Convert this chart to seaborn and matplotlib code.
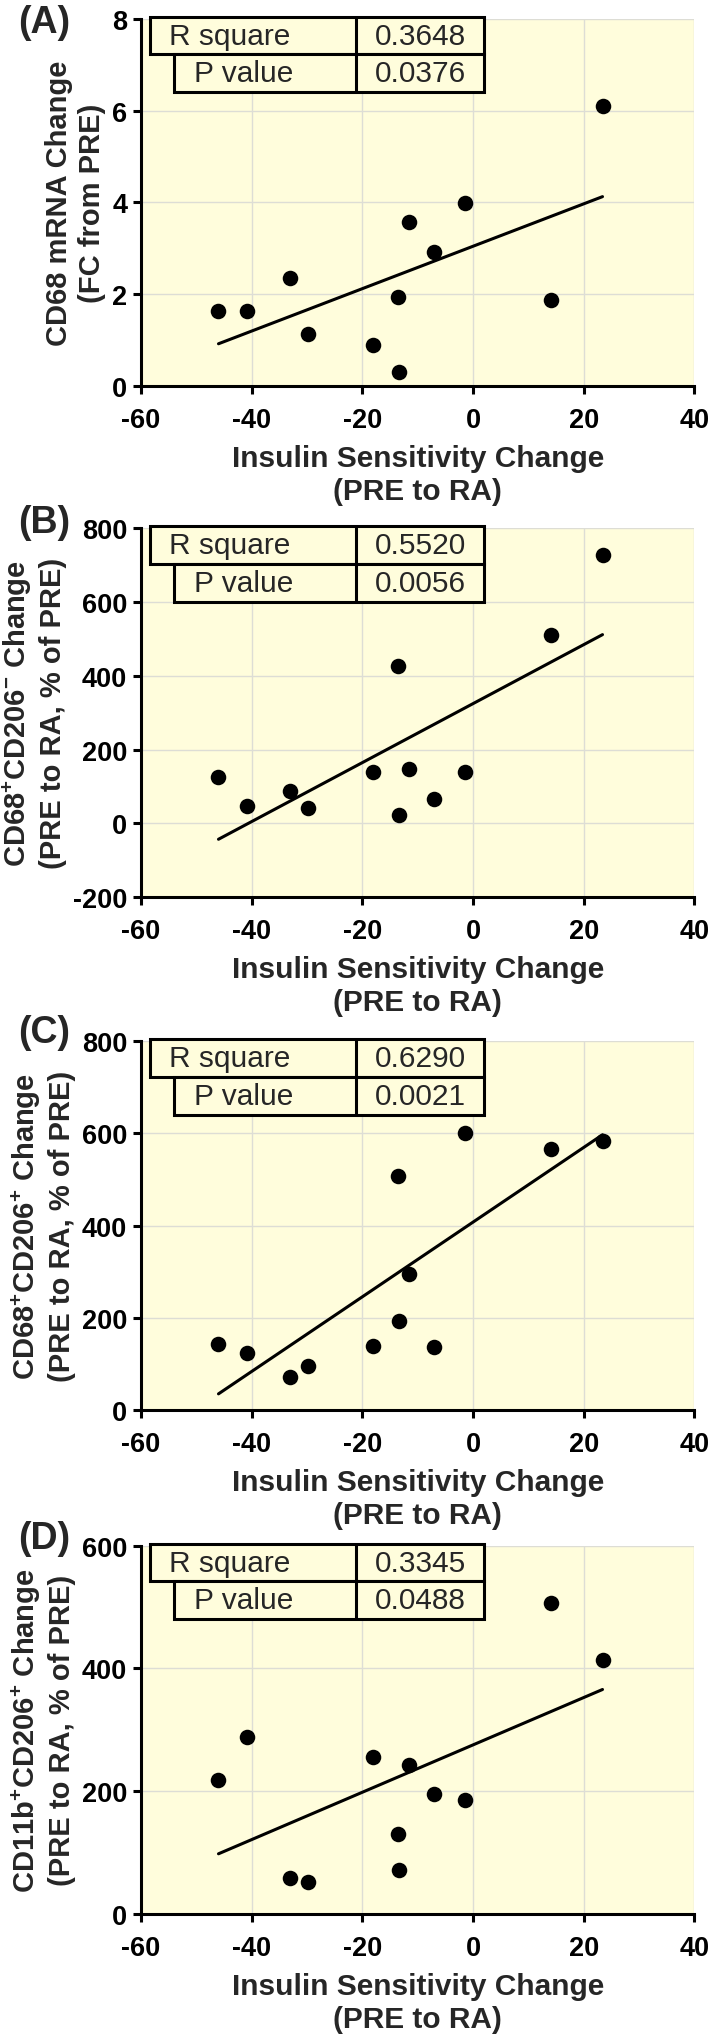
import numpy as np
import pandas as pd
import matplotlib
matplotlib.use('Agg')
import matplotlib.pyplot as plt
from matplotlib.patches import Rectangle
import seaborn as sns

###############################################################################
# Data (same 12 subjects in every panel)
insulin_change = [-46.0, -40.8, -33.1, -29.8, -18.0, -13.6, -13.4, -11.6, -7.0, -1.4, 14.1, 23.4]
cd68_mrna = [1.64, 1.64, 2.35, 1.12, 0.88, 1.93, 0.30, 3.56, 2.92, 3.99, 1.88, 6.10]
cd68_cd206_neg = [125, 46, 87, 42, 140, 426, 23, 147, 65, 140, 510, 728]
cd68_cd206_pos = [143, 123, 72, 95, 138, 508, 194, 296, 137, 601, 565, 583]
cd11b_cd206_pos = [219, 289, 59, 52, 256, 131, 72, 242, 196, 185, 507, 414]

panel_letters = ['(A)', '(B)', '(C)', '(D)']
y_labels = ['CD68 mRNA Change\n(FC from PRE)',
            'CD68$^{+}$CD206$^{-}$ Change\n(PRE to RA, % of PRE)',
            'CD68$^{+}$CD206$^{+}$ Change\n(PRE to RA, % of PRE)',
            'CD11b$^{+}$CD206$^{+}$ Change\n(PRE to RA, % of PRE)']
x_label = 'Insulin Sensitivity Change\n(PRE to RA)'
x_ticks = [-60, -40, -20, 0, 20, 40]
y_ticks = [[0, 2, 4, 6, 8],
           [-200, 0, 200, 400, 600, 800],
           [0, 200, 400, 600, 800],
           [0, 200, 400, 600]]
r_square = ['0.3648', '0.5520', '0.6290', '0.3345']
p_value = ['0.0376', '0.0056', '0.0021', '0.0488']
###############################################################################
sns.set_theme(style='white')
plt.rcParams['font.family'] = ['Liberation Sans', 'DejaVu Sans']
plt.rcParams['font.weight'] = 'bold'
plt.rcParams['axes.unicode_minus'] = False
plt.rcParams['mathtext.fontset'] = 'custom'
plt.rcParams['mathtext.default'] = 'bf'
plt.rcParams['mathtext.bf'] = 'Liberation Sans:bold'
plt.rcParams['mathtext.rm'] = 'Liberation Sans:bold'

bg = '#FFFDDC'
grid_col = '#DDDDD5'
lw = 2.2

fig = plt.figure(figsize=(7.14, 20.4), dpi=100)
rects = [[0.1975, 0.8104, 0.775, 0.1799],
         [0.1975, 0.5597, 0.775, 0.1809],
         [0.1975, 0.3083, 0.775, 0.1809],
         [0.1975, 0.0613, 0.775, 0.1805]]
letter_y = [0.992, 1.016, 1.025, 1.020]
series = [cd68_mrna, cd68_cd206_neg, cd68_cd206_pos, cd11b_cd206_pos]

for i, vals in enumerate(series):
    ax = fig.add_axes(rects[i])
    ax.set_facecolor(bg)
    df = pd.DataFrame({'x': insulin_change, 'y': vals})
    sns.regplot(data=df, x='x', y='y', ax=ax, ci=None, color='black',
                scatter_kws={'s': 125, 'alpha': 1, 'linewidths': 0, 'zorder': 4},
                line_kws={'lw': lw, 'zorder': 3})
    ax.set_xlim(-60, 40)
    ax.set_ylim(y_ticks[i][0], y_ticks[i][-1])
    ax.set_xticks(x_ticks)
    ax.set_yticks(y_ticks[i])
    ax.grid(True, color=grid_col, lw=1.0)
    ax.set_axisbelow(True)
    for s in ['top', 'right']:
        ax.spines[s].set_visible(False)
    for s in ['left', 'bottom']:
        ax.spines[s].set_color('black')
        ax.spines[s].set_linewidth(lw)
    ax.tick_params(direction='out', length=6, width=lw, colors='black',
                   labelsize=19.5, left=True, bottom=True)
    ax.tick_params(axis='x', pad=9)
    ax.tick_params(axis='y', pad=4)
    ax.set_xlabel(x_label, fontsize=21.5, fontweight='bold', labelpad=8, linespacing=1.22)
    ax.set_ylabel(y_labels[i], fontsize=21, fontweight='bold', labelpad=4, linespacing=1.25)

    # small stats table in the top left corner
    ax.add_patch(Rectangle((0.016, 0.903), 0.604, 0.102, transform=ax.transAxes,
                           facecolor=bg, edgecolor='black', lw=lw, clip_on=False, zorder=5))
    ax.add_patch(Rectangle((0.06, 0.80), 0.56, 0.103, transform=ax.transAxes,
                           facecolor=bg, edgecolor='black', lw=lw, clip_on=False, zorder=5))
    ax.plot([0.388, 0.388], [0.80, 1.005], transform=ax.transAxes, color='black',
            lw=lw, clip_on=False, zorder=6)
    ax.text(0.051, 0.954, 'R square', transform=ax.transAxes, ha='left', va='center',
            fontsize=21.5, fontweight='normal', zorder=7)
    ax.text(0.096, 0.8515, 'P value', transform=ax.transAxes, ha='left', va='center',
            fontsize=21.5, fontweight='normal', zorder=7)
    ax.text(0.505, 0.954, r_square[i], transform=ax.transAxes, ha='center', va='center',
            fontsize=21.5, fontweight='normal', zorder=7)
    ax.text(0.505, 0.8515, p_value[i], transform=ax.transAxes, ha='center', va='center',
            fontsize=21.5, fontweight='normal', zorder=7)

    ax.text(-0.175, letter_y[i], panel_letters[i], transform=ax.transAxes,
            ha='center', va='center', fontsize=27, fontweight='bold')

fig.savefig('out.png', dpi=100)
